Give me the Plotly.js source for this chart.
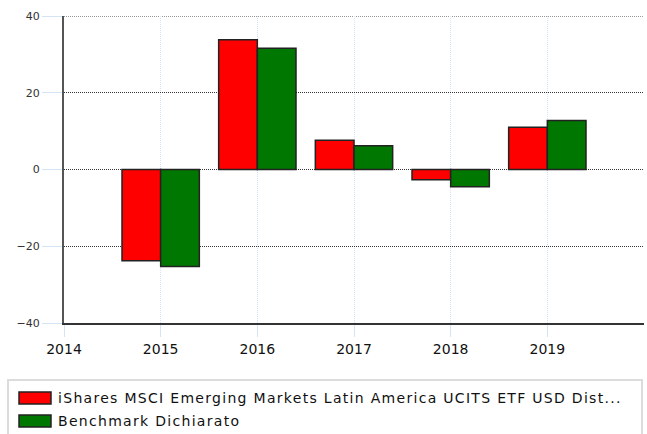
<!DOCTYPE html>
<html>
<head>
<meta charset="utf-8">
<script src="https://cdn.plot.ly/plotly-3.0.1.min.js"></script>
<style>
html,body{margin:0;padding:0;background:#fff;}
#chart{width:647px;height:434px;}
.annotation-text{letter-spacing:1.3px;}
</style>
</head>
<body>
<div id="chart"></div>
<script>
const years = [2015, 2016, 2017, 2018, 2019];
const fundValues = [-23.8, 33.8, 7.6, -2.7, 11.0];
const benchValues = [-25.3, 31.6, 6.2, -4.5, 12.8];
const seriesNames = ['iShares MSCI Emerging Markets Latin America UCITS ETF USD Dist...', 'Benchmark Dichiarato'];
const seriesColors = ['#ff0000', '#007700'];
const xTicks = [2014, 2015, 2016, 2017, 2018, 2019];
const yTicks = [-40, -20, 0, 20, 40];

const W = 647, H = 434, L = 64, R = 3, T = 16, B = 111;
const pw = W - L - R, ph = H - T - B;
const px = x => (x - L) / pw;
const py = y => (H - B - y) / ph;

const traces = [fundValues, benchValues].map((vals, i) => ({
  type: 'bar',
  x: years,
  y: vals,
  name: seriesNames[i],
  marker: {color: seriesColors[i], line: {color: '#222', width: 1.5}},
  showlegend: false,
  hoverinfo: 'x+y'
}));

const shapes = [
  {type: 'line', xref: 'paper', yref: 'y', x0: 0, x1: 1, y0: yTicks[yTicks.length - 1], y1: yTicks[yTicks.length - 1],
   line: {color: '#333', width: 1, dash: '1px,1px'}, layer: 'below'},
  {type: 'rect', xref: 'paper', yref: 'paper', x0: px(8), x1: px(642), y0: py(380), y1: py(445),
   line: {color: '#dcdcdc', width: 2}, fillcolor: 'rgba(0,0,0,0)'}
];
const annotations = [];
const rows = [[392, 404, 398], [415, 427, 421]];
seriesNames.forEach((n, i) => {
  shapes.push({type: 'rect', xref: 'paper', yref: 'paper', x0: px(19), x1: px(51), y0: py(rows[i][0]), y1: py(rows[i][1]),
    line: {color: '#222', width: 1.5}, fillcolor: seriesColors[i]});
  annotations.push({xref: 'paper', yref: 'paper', x: px(56), y: py(rows[i][2]), xanchor: 'left', yanchor: 'middle',
    text: n, showarrow: false, font: {family: 'DejaVu Sans', size: 14, color: '#111'}});
});

const layout = {
  width: W, height: H,
  margin: {l: L, r: R, t: T, b: B, pad: 0},
  paper_bgcolor: '#fff', plot_bgcolor: '#fff',
  barmode: 'group', bargap: 0.2, bargroupgap: 0,
  font: {family: 'DejaVu Sans', color: '#222'},
  xaxis: {
    range: [2014, 2020], tickvals: xTicks, ticktext: xTicks.map(String),
    showgrid: true, gridcolor: '#d4e4f7', griddash: '1px,1px', gridwidth: 1,
    ticks: 'outside', ticklen: 12, tickcolor: '#d4e4f7', tickwidth: 1,
    showline: true, linecolor: '#333', linewidth: 2,
    tickfont: {family: 'DejaVu Sans', size: 14, color: '#111'},
    zeroline: false, fixedrange: true
  },
  yaxis: {
    range: [-40, 40], tickvals: yTicks,
    showgrid: true, gridcolor: '#333', griddash: '1px,1px', gridwidth: 1,
    ticks: 'outside', ticklen: 20, tickcolor: '#d4e4f7', tickwidth: 1,
    showline: true, linecolor: '#555', linewidth: 2,
    tickfont: {family: 'DejaVu Sans', size: 11, color: '#333'},
    zeroline: false, fixedrange: true
  },
  shapes: shapes,
  annotations: annotations
};

Plotly.newPlot('chart', traces, layout, {displayModeBar: false, staticPlot: true});
</script>
</body>
</html>
